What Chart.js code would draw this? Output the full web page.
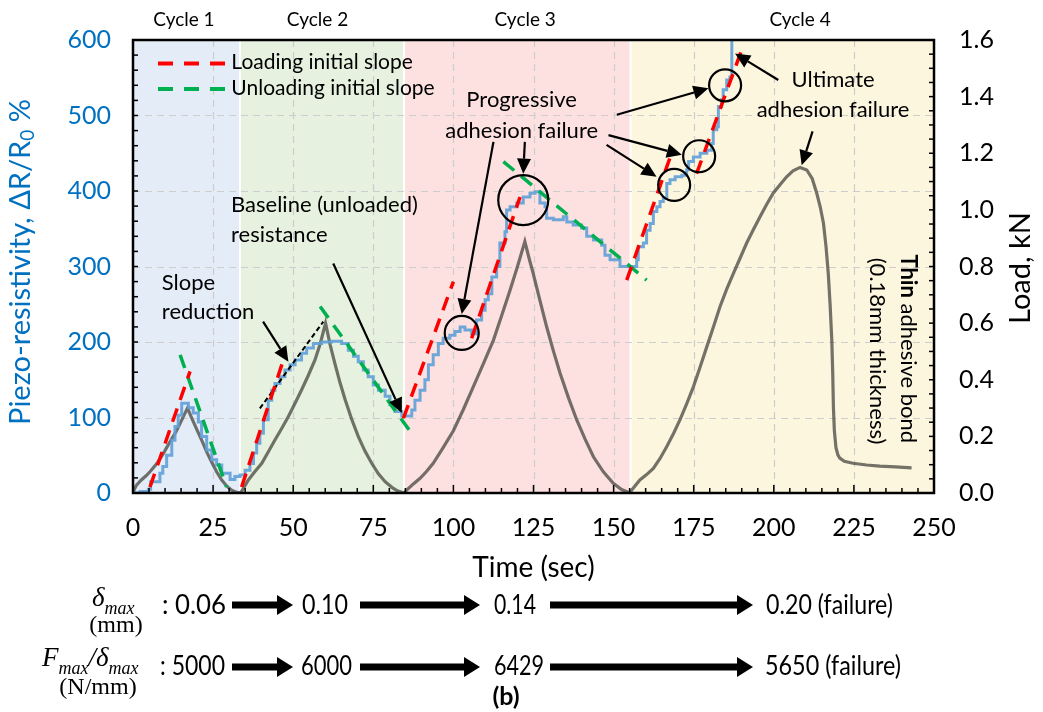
<!DOCTYPE html>
<html>
<head>
<meta charset="utf-8">
<script src="https://cdn.jsdelivr.net/npm/chart.js@4.4.0/dist/chart.umd.min.js"></script>
<style>
  body { margin: 0; background: #fff; }
  #wrap { width: 1043px; height: 712px; }
</style>
</head>
<body>
<div id="wrap"><canvas id="c" width="1043" height="712"></canvas></div>
<script>
// ---- data ----
// piezo-resistivity (%), stepped trace: time (s) where each level starts, and level
const piezoT = [0, 2.2, 4.8, 5.5, 8.4, 9.3, 10.5, 12.1, 13.1, 14.1, 15.2, 17.3, 18.8, 20.4, 21.4, 23, 24.6, 26.1, 27.7, 30.3, 31.8, 33.4,
  35, 36.5, 37.6, 38.6, 39.6, 40.7, 42.2, 43.3, 44.3, 45.9, 47.4, 49, 50.6, 52.6, 54.2, 56.3, 58.9, 62, 65.1, 67.2, 68.8, 70.3, 71.9, 73.4, 75, 76.6, 78.7, 80.2, 81.8, 83.9,
  87, 88, 89.6, 91.1, 92.2, 93.7, 95.3, 96.8, 98.9, 100.5, 102.1, 103.6, 105.7, 107.2, 108.8, 109.9, 110.9, 112, 113.5, 114.5, 116.1, 116.6, 117.7, 119.8, 121.8, 123.9, 125.5, 127, 128.6, 129.1, 131.2, 134.3, 135.4, 137.4, 140, 141.6, 143.7, 146.3, 147.3, 148.9, 152,
  157.2, 157.7, 159.3, 160.3, 161.4, 162.4, 163.5, 164.5, 165.5, 166.6, 167.6, 169.2, 171.3, 172.8, 173.4, 174.9, 177, 179.1, 180.6, 181.1, 182.2, 182.7, 183.7, 184.2, 185.3, 186.3, 186.9];
const piezoPct = [0, 2, 5, 15, 26, 35, 50, 70, 88, 103, 119, 113, 106, 94, 75, 57, 44, 37, 26, 18, 22, 24,
  30, 39, 53, 66, 79, 97, 123, 136, 145, 154, 163, 170, 176, 185, 192, 198, 200, 201, 198, 189, 181, 174, 163, 154, 143, 136, 128, 117, 108, 102,
  110, 123, 136, 150, 170, 183, 198, 205, 209, 214, 220, 216, 211, 229, 242, 256, 264, 286, 300, 331, 346, 375, 379, 384, 392, 397, 399, 384, 379, 364, 362, 366, 359, 355, 351, 340, 335, 328, 315, 309, 300,
  309, 326, 331, 348, 357, 373, 379, 386, 390, 410, 415, 419, 421, 428, 439, 445, 450, 454, 463, 481, 485, 512, 521, 534, 547, 551, 600];

// load (kN), right axis
const loadT = [0, 0.5, 1.1, 2.5, 4, 5.3, 7.5, 9.5, 11.5, 13.6, 15.3, 17, 18.5, 19.9, 21.5, 23, 24.5, 26.1, 27.7, 29.2, 30.8, 32.4, 33.4,
  34, 36, 38, 40.2, 42.2, 44.3, 46.4, 48.5, 50.5, 52.6, 54.7, 56.8, 58.5, 60.1, 61.5, 63, 64.6, 66.2, 68.2, 70.3, 72.4, 74.5, 76.6, 78.7, 80.8, 82.5, 84.6,
  85.4, 87.5, 89.6, 91.6, 93.7, 96.8, 100, 103.1, 106.2, 109.4, 112.5, 115.1, 117.7, 120, 122.3, 123.6, 124.9, 127, 129.1, 131.2, 133.3, 135.9, 138.5, 141.1, 143.7, 146.8, 149.9, 152.5, 155.1,
  155.6, 158.2, 160.3, 162.4, 164.5, 166.6, 168.7, 170.7, 172.8, 174.9, 177, 179.1, 181.2, 183.2, 185.3, 187.4, 189.5, 191.5, 193.6, 195.7, 197.8, 199.8, 202, 204, 206, 208.2, 210.3, 212, 213.4, 214.5, 215.5, 216.3, 217, 217.6, 218.1, 218.4, 218.6, 218.9, 219.4, 220, 220.6, 222, 224.7, 229, 233.1, 238, 243];
const loadKN = [0, 0.015, 0.028, 0.045, 0.06, 0.075, 0.105, 0.14, 0.18, 0.22, 0.26, 0.30, 0.26, 0.225, 0.185, 0.145, 0.11, 0.075, 0.046, 0.025, 0.01, 0.002, 0,
  0.008, 0.046, 0.075, 0.105, 0.145, 0.187, 0.228, 0.27, 0.315, 0.364, 0.415, 0.47, 0.53, 0.60, 0.525, 0.458, 0.39, 0.33, 0.262, 0.2, 0.148, 0.105, 0.068, 0.04, 0.02, 0.008, 0,
  0.01, 0.032, 0.052, 0.076, 0.105, 0.16, 0.22, 0.295, 0.375, 0.458, 0.54, 0.628, 0.717, 0.80, 0.888, 0.83, 0.776, 0.68, 0.587, 0.502, 0.423, 0.337, 0.258, 0.19, 0.128, 0.075, 0.034, 0.012, 0,
  0.01, 0.046, 0.065, 0.087, 0.122, 0.164, 0.21, 0.258, 0.315, 0.375, 0.445, 0.517, 0.588, 0.658, 0.72, 0.776, 0.83, 0.882, 0.93, 0.976, 1.02, 1.059, 1.09, 1.117, 1.138, 1.15, 1.141, 1.11, 1.059, 1.01, 0.953, 0.87, 0.776, 0.66, 0.54, 0.42, 0.305, 0.22, 0.16, 0.135, 0.123, 0.112, 0.105, 0.099, 0.095, 0.092, 0.089];

// fitted slope segments [t0, p0, t1, p1] in piezo %
const loadingSlopes = [[5.3, 8, 17.8, 161], [33.9, 8, 47, 177], [84.4, 99, 100, 280], [105.7, 205, 120.8, 392], [154.1, 282, 168.1, 450], [175.9, 423, 190.5, 593]];
const unloadingSlopes = [[14.7, 183, 29.2, 8], [58.4, 247, 87.3, 77], [115.6, 439, 160.3, 282]];
const reducedSlope = [[39.6, 112, 59.4, 227]];

// cycles
const cycleNames = ['Cycle 1', 'Cycle 2', 'Cycle 3', 'Cycle 4'];
const cycleStart = [0, 33.4, 84.6, 155.3];
const cycleEnd = [33.4, 84.6, 155.3, 250];
const cycleLabelT = [15.9, 57.6, 122.4, 208.2];
const cycleColors = ['#e4ecf7', '#e7f1df', '#fde1e1', '#fdf6df'];

// bottom summary rows
const deltaMax = [': 0.06', '0.10', '0.14', '0.20 (failure)'];
const stiffness = [': 5000', '6000', '6429', '5650 (failure)'];

// annotations (time, piezo %)
const circles = [[102.6, 212, 17], [121.8, 388, 25], [168.9, 408, 16], [176.7, 446, 16], [184.8, 540, 16]];
const arrows = [[40.6, 227, 48.5, 174], [62.5, 304, 83.9, 106], [112.5, 465, 102.6, 237], [122.3, 465, 121.8, 423],
  [151, 501, 179.6, 536], [148.4, 474, 171.3, 448], [147.8, 461, 163.4, 419], [201.4, 547, 187.9, 582], [212.1, 479, 208.7, 434]];

// ---- helpers ----
function pts(ts, vs) { return ts.map((t, i) => ({ x: t, y: vs[i] })); }
function segs(list) {
  const out = [];
  list.forEach(s => { out.push({ x: s[0], y: s[1] }, { x: s[2], y: s[3] }, { x: s[2], y: null }); });
  return out;
}
function arrow(ctx, x1, y1, x2, y2, w, hl, hw) {
  const a = Math.atan2(y2 - y1, x2 - x1);
  const bx = x2 - hl * Math.cos(a), by = y2 - hl * Math.sin(a);
  ctx.lineWidth = w;
  ctx.beginPath(); ctx.moveTo(x1, y1); ctx.lineTo(bx, by); ctx.stroke();
  ctx.beginPath(); ctx.moveTo(x2, y2);
  ctx.lineTo(bx + hw * Math.sin(a), by - hw * Math.cos(a));
  ctx.lineTo(bx - hw * Math.sin(a), by + hw * Math.cos(a));
  ctx.closePath(); ctx.fill();
}
function fitText(ctx, s, x0, x1, yc, font) {
  ctx.font = font;
  const w = ctx.measureText(s).width;
  ctx.save(); ctx.translate(x0, yc); ctx.scale((x1 - x0) / w, 1);
  ctx.textAlign = 'left'; ctx.textBaseline = 'middle';
  ctx.fillText(s, 0, 0); ctx.restore();
}
// italic symbol with subscript, returns width
function symSub(ctx, sym, sub, x, y, size) {
  ctx.font = 'italic ' + size + 'px "Liberation Serif"';
  ctx.fillText(sym, x, y);
  const w1 = ctx.measureText(sym).width;
  ctx.font = 'italic ' + Math.round(size * 0.68) + 'px "Liberation Serif"';
  ctx.fillText(sub, x + w1, y + size * 0.28);
  return w1 + ctx.measureText(sub).width;
}

const decor = {
  id: 'decor',
  beforeDatasetsDraw(c) {
    const { ctx, chartArea: a, scales: { x, y } } = c;
    ctx.save();
    cycleStart.forEach((t0, i) => {
      const x0 = x.getPixelForValue(t0), x1 = x.getPixelForValue(cycleEnd[i]);
      ctx.fillStyle = cycleColors[i];
      ctx.fillRect(x0, a.top, x1 - x0, a.bottom - a.top);
    });
    ctx.strokeStyle = '#ffffff'; ctx.lineWidth = 2;
    cycleStart.slice(1).forEach(t => {
      const xx = x.getPixelForValue(t);
      ctx.beginPath(); ctx.moveTo(xx, a.top); ctx.lineTo(xx, a.bottom); ctx.stroke();
    });
    ctx.strokeStyle = '#cdcdcd'; ctx.lineWidth = 1.2; ctx.setLineDash([7, 5]);
    for (let v = 25; v < 250; v += 25) {
      const xx = Math.round(x.getPixelForValue(v)) + 0.5;
      ctx.beginPath(); ctx.moveTo(xx, a.top); ctx.lineTo(xx, a.bottom); ctx.stroke();
    }
    for (let v = 100; v < 600; v += 100) {
      const yy = Math.round(y.getPixelForValue(v)) + 0.5;
      ctx.beginPath(); ctx.moveTo(a.left, yy); ctx.lineTo(a.right, yy); ctx.stroke();
    }
    ctx.restore();
  },
  afterDatasetsDraw(c) {
    const { ctx, chartArea: a, scales: { x, y, y2 } } = c;
    const X = t => x.getPixelForValue(t), Y = p => y.getPixelForValue(p);
    ctx.save();
    // box and inner ticks
    ctx.strokeStyle = '#000'; ctx.lineWidth = 1.5;
    for (let v = 0; v <= 250; v += 5) {
      const xx = X(v), len = v % 25 === 0 ? 8 : 5;
      ctx.beginPath(); ctx.moveTo(xx, a.bottom); ctx.lineTo(xx, a.bottom - len); ctx.stroke();
    }
    for (let v = 0; v <= 600; v += 20) {
      const yy = Y(v);
      ctx.beginPath(); ctx.moveTo(a.left, yy); ctx.lineTo(a.left + 5, yy); ctx.stroke();
    }
    for (let v = 0; v <= 1.6001; v += 0.05) {
      const yy = y2.getPixelForValue(v);
      ctx.beginPath(); ctx.moveTo(a.right, yy); ctx.lineTo(a.right - 5, yy); ctx.stroke();
    }
    ctx.lineWidth = 2.5;
    ctx.strokeRect(a.left, a.top, a.right - a.left, a.bottom - a.top);

    // legend inside the plot
    const legend = [['#ff0000', 'Loading initial slope', 569], ['#00b050', 'Unloading initial slope', 535]];
    legend.forEach(l => {
      ctx.strokeStyle = l[0]; ctx.lineWidth = 4; ctx.setLineDash([15, 11]);
      ctx.beginPath(); ctx.moveTo(X(7.8), Y(l[2])); ctx.lineTo(X(29.3), Y(l[2])); ctx.stroke();
      ctx.setLineDash([]);
      ctx.fillStyle = '#000'; ctx.font = '21px Lato'; ctx.textAlign = 'left'; ctx.textBaseline = 'middle';
      ctx.fillText(l[1], X(30.7), Y(l[2]) - 1);
    });

    // circles and arrows
    ctx.strokeStyle = '#000'; ctx.fillStyle = '#000'; ctx.lineWidth = 2.2;
    circles.forEach(cc => { ctx.beginPath(); ctx.arc(X(cc[0]), Y(cc[1]), cc[2], 0, Math.PI * 2); ctx.stroke(); });
    arrows.forEach(ar => arrow(ctx, X(ar[0]), Y(ar[1]), X(ar[2]), Y(ar[3]), 2.2, 15, 7));

    // annotation text
    ctx.font = '22px Lato'; ctx.textBaseline = 'middle';
    ctx.textAlign = 'left';
    ctx.fillText('Slope', X(9), Y(278));
    ctx.fillText('reduction', X(9), Y(240));
    ctx.fillText('Baseline (unloaded)', X(30.6), Y(381));
    ctx.fillText('resistance', X(30.6), Y(342));
    ctx.textAlign = 'center';
    ctx.fillText('Progressive', X(121.3), Y(520));
    ctx.fillText('adhesion failure', X(121.3), Y(479));
    ctx.fillText('Ultimate', X(218.5), Y(547));
    ctx.fillText('adhesion failure', X(218.5), Y(507));

    // vertical note
    ctx.save(); ctx.translate(X(241.9), Y(191)); ctx.rotate(Math.PI / 2);
    ctx.font = 'bold 22px Lato'; const wb = ctx.measureText('Thin').width;
    ctx.font = '22px Lato'; const wr = ctx.measureText(' adhesive bond').width;
    ctx.textAlign = 'left';
    ctx.font = 'bold 22px Lato'; ctx.fillText('Thin', -(wb + wr) / 2, 0);
    ctx.font = '22px Lato'; ctx.fillText(' adhesive bond', -(wb + wr) / 2 + wb, 0);
    ctx.restore();
    ctx.save(); ctx.translate(X(232.1), Y(188)); ctx.rotate(Math.PI / 2);
    ctx.font = '22px Lato'; ctx.textAlign = 'center'; ctx.fillText('(0.18mm thickness)', 0, 0);
    ctx.restore();

    // cycle labels
    ctx.font = '19px Lato'; ctx.textAlign = 'center';
    cycleNames.forEach((n, i) => ctx.fillText(n, X(cycleLabelT[i]), 20));

    // axis titles
    ctx.font = '28px Lato'; ctx.fillText('Time (sec)', (a.left + a.right) / 2, 568);
    ctx.save(); ctx.translate(1021, 268); ctx.rotate(-Math.PI / 2);
    ctx.font = '29px Lato'; ctx.fillText('Load, kN', 0, 0); ctx.restore();
    ctx.save(); ctx.translate(21, 262); ctx.rotate(-Math.PI / 2);
    ctx.fillStyle = '#0070c0'; ctx.textAlign = 'left';
    ctx.font = '29px Lato'; const p1 = 'Piezo-resistivity, \u0394R/R';
    const w1 = ctx.measureText(p1).width, w3 = ctx.measureText(' %').width;
    ctx.font = '19px Lato'; const w2 = ctx.measureText('0').width;
    const sx = -(w1 + w2 + w3) / 2;
    ctx.font = '29px Lato'; ctx.fillText(p1, sx, 0);
    ctx.font = '19px Lato'; ctx.fillText('0', sx + w1, 7);
    ctx.font = '29px Lato'; ctx.fillText(' %', sx + w1 + w2, 0);
    ctx.restore();

    // bottom summary rows
    ctx.fillStyle = '#000'; ctx.textAlign = 'left'; ctx.textBaseline = 'alphabetic';
    symSub(ctx, '\u03b4', 'max', 92, 606, 27);
    ctx.font = '24px "Liberation Serif"'; ctx.textAlign = 'center';
    ctx.fillText('(mm)', 116, 632);
    ctx.textAlign = 'left';
    let fx = 42 + symSub(ctx, 'F', 'max', 42, 666, 27);
    ctx.font = 'italic 27px "Liberation Serif"'; ctx.fillText('/', fx, 666); fx += ctx.measureText('/').width;
    symSub(ctx, '\u03b4', 'max', fx, 666, 27);
    ctx.font = '24px "Liberation Serif"'; ctx.textAlign = 'center';
    ctx.fillText('(N/mm)', 98, 694);
    const colX = [[162, 226], [302, 348], [494, 536], [766, 893]];
    const colX2 = [[160, 225], [301, 352], [494, 544], [765, 901]];
    deltaMax.forEach((s, i) => fitText(ctx, s, colX[i][0], colX[i][1], 606, '26px Lato'));
    stiffness.forEach((s, i) => fitText(ctx, s, colX2[i][0], colX2[i][1], 667, '26px Lato'));
    const arrX = [[232, 293], [360, 480], [550, 753]];
    arrX.forEach(r => {
      arrow(ctx, r[0], 605, r[1], 605, 7, 16, 10);
      arrow(ctx, r[0], 667, r[1], 667, 7, 16, 10);
    });
    ctx.font = 'bold 25px Lato'; ctx.textAlign = 'center'; ctx.textBaseline = 'middle';
    ctx.fillText('(b)', 506, 697);
    ctx.restore();
  }
};

const tickFont = { family: 'Lato', size: 25 };
new Chart(document.getElementById('c'), {
  type: 'line',
  data: {
    datasets: [
      { label: 'Loading initial slope', data: segs(loadingSlopes), yAxisID: 'y', borderColor: '#ff0000', borderWidth: 3.5, borderDash: [14, 9], spanGaps: false },
      { label: 'Unloading initial slope', data: segs(unloadingSlopes), yAxisID: 'y', borderColor: '#00b050', borderWidth: 3.5, borderDash: [14, 9], spanGaps: false },
      { label: 'Slope reduction', data: segs(reducedSlope), yAxisID: 'y', borderColor: '#000', borderWidth: 2, borderDash: [5, 3], spanGaps: false },
      { label: 'Piezo-resistivity', data: pts(piezoT, piezoPct), yAxisID: 'y', stepped: true, borderColor: 'rgba(95,160,215,0.9)', borderWidth: 3 },
      { label: 'Load', data: pts(loadT, loadKN), yAxisID: 'y2', borderColor: 'rgba(70,70,62,0.75)', borderWidth: 3.2 }
    ]
  },
  options: {
    responsive: false,
    animation: false,
    layout: { padding: { top: 40, left: 0, right: 0, bottom: 0 } },
    elements: { point: { radius: 0 }, line: { tension: 0 } },
    plugins: { legend: { display: false }, tooltip: { enabled: false } },
    scales: {
      x: {
        type: 'linear', min: 0, max: 250,
        ticks: { stepSize: 25, font: tickFont, color: '#000', padding: 20, maxRotation: 0, autoSkip: false },
        grid: { display: false, drawTicks: false }, border: { display: false },
        afterFit: s => { s.height = 219; }
      },
      y: {
        type: 'linear', position: 'left', min: 0, max: 600,
        ticks: { stepSize: 100, font: tickFont, color: '#0070c0', padding: 22 },
        grid: { display: false, drawTicks: false }, border: { display: false },
        afterFit: s => { s.width = 133; }
      },
      y2: {
        type: 'linear', position: 'right', min: 0, max: 1.6,
        ticks: { stepSize: 0.2, font: tickFont, color: '#000', padding: 25, callback: v => v.toFixed(1) },
        grid: { display: false, drawTicks: false }, border: { display: false },
        afterFit: s => { s.width = 109; }
      }
    }
  },
  plugins: [decor]
});
</script>
</body>
</html>
